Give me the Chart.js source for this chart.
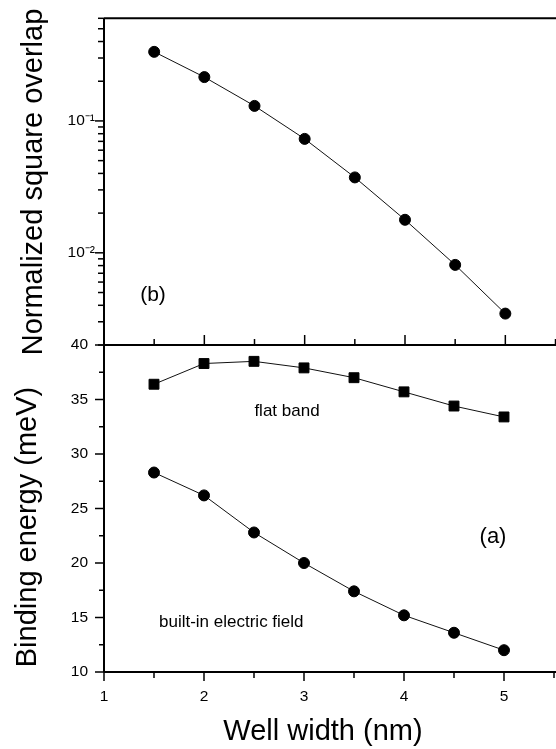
<!DOCTYPE html>
<html>
<head>
<meta charset="utf-8">
<script src="https://cdn.jsdelivr.net/npm/chart.js@4.4.1/dist/chart.umd.min.js"></script>
<style>
  html, body { margin: 0; padding: 0; background: #fff; overflow: hidden; }
  #wrap { position: relative; width: 556px; height: 749px; overflow: hidden; }
  #wrap canvas { position: absolute; left: 0; top: 0; }
</style>
</head>
<body>
<div id="wrap">
  <canvas id="chartTop" width="562" height="749"></canvas>
  <canvas id="chartBottom" width="562" height="749"></canvas>
</div>
<script>
// data
var wellWidth = [1.5, 2, 2.5, 3, 3.5, 4, 4.5, 5];
var overlap = [0.334, 0.215, 0.130, 0.0731, 0.0373, 0.0178, 0.0081, 0.00346];
var flatBand = [36.4, 38.3, 38.5, 37.9, 37.0, 35.7, 34.4, 33.4];
var builtIn = [28.3, 26.2, 22.8, 20.0, 17.4, 15.2, 13.6, 12.0];

var xTicks = [1, 2, 3, 4, 5];
var energyTicks = [10, 15, 20, 25, 30, 35, 40];
var overlapTicks = [0.01, 0.1];
var overlapLabels = ['10\u207B\u00B2', '10\u207B\u00B9'];

var FONT = '"Liberation Sans", Arial, Helvetica, sans-serif';

function pts(ys) {
  return wellWidth.map(function (x, i) { return { x: x, y: ys[i] }; });
}

function line(ctx, x1, y1, x2, y2, w) {
  ctx.lineWidth = w;
  ctx.beginPath();
  ctx.moveTo(x1, y1);
  ctx.lineTo(x2, y2);
  ctx.stroke();
}

function text(ctx, str, x, y, size, align, base) {
  ctx.font = size + 'px ' + FONT;
  ctx.textAlign = align || 'center';
  ctx.textBaseline = base || 'middle';
  ctx.fillText(str, x, y);
}

// frame + ticks for the top panel (log)
var topFrame = {
  id: 'topFrame',
  afterDraw: function (chart) {
    var ctx = chart.ctx, a = chart.chartArea;
    var xs = chart.scales.x, ys = chart.scales.y;
    ctx.save();
    ctx.strokeStyle = '#000';
    ctx.fillStyle = '#000';
    line(ctx, a.left, a.top, a.left, a.bottom, 2);
    line(ctx, a.left, a.top, chart.width, a.top, 2);
    // log ticks, pointing out
    for (var e = -3; e <= 0; e++) {
      for (var k = 1; k <= 9; k++) {
        var v = k * Math.pow(10, e);
        if (v < ys.min * 0.999 || v > ys.max * 1.001) continue;
        var py = ys.getPixelForValue(v);
        line(ctx, a.left - (k === 1 ? 9 : 6), py, a.left, py, 1.5);
      }
    }
    // x ticks on the bottom edge, pointing in
    for (var t = 1.5; t <= 5.5; t += 0.5) {
      var px = xs.getPixelForValue(t);
      line(ctx, px, a.bottom, px, a.bottom - (t % 1 === 0 ? 10 : 6), 1.5);
    }
    // titles and panel label
    ctx.save();
    ctx.translate(42, 182);
    ctx.rotate(-Math.PI / 2);
    text(ctx, 'Normalized square overlap', 0, 0, 29, 'center', 'alphabetic');
    ctx.restore();
    text(ctx, '(b)', 153, 295, 21);
    ctx.restore();
  }
};

// frame + ticks for the bottom panel (linear)
var bottomFrame = {
  id: 'bottomFrame',
  afterDraw: function (chart) {
    var ctx = chart.ctx, a = chart.chartArea;
    var xs = chart.scales.x, ys = chart.scales.y;
    ctx.save();
    ctx.strokeStyle = '#000';
    ctx.fillStyle = '#000';
    line(ctx, a.left, a.top, a.left, a.bottom, 2);
    line(ctx, a.left, a.top, chart.width, a.top, 2);
    line(ctx, a.left, a.bottom, chart.width, a.bottom, 2);
    for (var v = ys.min; v <= ys.max; v += 2.5) {
      var py = ys.getPixelForValue(v);
      line(ctx, a.left - (v % 5 === 0 ? 9 : 5), py, a.left, py, 1.5);
    }
    for (var t = 1; t <= 5.5; t += 0.5) {
      var px = xs.getPixelForValue(t);
      line(ctx, px, a.bottom, px, a.bottom + (t % 1 === 0 ? 9 : 6), 1.5);
    }
    ctx.save();
    ctx.translate(36, 527);
    ctx.rotate(-Math.PI / 2);
    text(ctx, 'Binding energy (meV)', 0, 0, 29, 'center', 'alphabetic');
    ctx.restore();
    text(ctx, 'Well width (nm)', 323, 740, 29, 'center', 'alphabetic');
    text(ctx, 'flat band', 287, 411, 17);
    text(ctx, '(a)', 493, 537, 22);
    text(ctx, 'built-in electric field', 159, 627, 17, 'left', 'alphabetic');
    ctx.restore();
  }
};

var tickFont = { family: FONT, size: 15.5 };

new Chart(document.getElementById('chartTop').getContext('2d'), {
  type: 'line',
  data: {
    datasets: [{
      data: pts(overlap),
      borderColor: '#111',
      borderWidth: 1,
      backgroundColor: '#000',
      pointBackgroundColor: '#000',
      pointBorderColor: '#000',
      pointStyle: 'circle',
      pointRadius: 5.5,
      pointBorderWidth: 1,
      fill: false
    }]
  },
  options: {
    responsive: false,
    animation: false,
    events: [],
    layout: { padding: { top: 17, right: 2, bottom: 404, left: 0 } },
    plugins: { legend: { display: false }, tooltip: { enabled: false } },
    scales: {
      x: { type: 'linear', min: 1, max: 5.5, display: false },
      y: {
        type: 'logarithmic',
        min: 0.002,
        max: 0.6,
        afterFit: function (s) { s.width = 104; },
        afterBuildTicks: function (s) {
          s.ticks = overlapTicks.map(function (v) { return { value: v }; });
        },
        grid: { display: false, drawTicks: false },
        border: { display: false },
        ticks: {
          autoSkip: false,
          padding: 9,
          color: '#000',
          font: tickFont,
          callback: function (v, i) { return overlapLabels[i]; }
        }
      }
    }
  },
  plugins: [topFrame]
});

new Chart(document.getElementById('chartBottom').getContext('2d'), {
  type: 'line',
  data: {
    datasets: [{
      data: pts(flatBand),
      borderColor: '#111',
      borderWidth: 1,
      pointBackgroundColor: '#000',
      pointBorderColor: '#000',
      pointStyle: 'rect',
      pointRadius: 7,
      pointBorderWidth: 1,
      fill: false
    }, {
      data: pts(builtIn),
      borderColor: '#111',
      borderWidth: 1,
      pointBackgroundColor: '#000',
      pointBorderColor: '#000',
      pointStyle: 'circle',
      pointRadius: 5.5,
      pointBorderWidth: 1,
      fill: false
    }]
  },
  options: {
    responsive: false,
    animation: false,
    events: [],
    layout: { padding: { top: 345, right: 2, bottom: 0, left: 0 } },
    plugins: { legend: { display: false }, tooltip: { enabled: false } },
    scales: {
      x: {
        type: 'linear',
        min: 1,
        max: 5.5,
        afterFit: function (s) { s.height = 77; },
        afterBuildTicks: function (s) {
          s.ticks = xTicks.map(function (v) { return { value: v }; });
        },
        grid: { display: false, drawTicks: false },
        border: { display: false },
        ticks: { autoSkip: false, maxRotation: 0, padding: 15, color: '#000', font: tickFont }
      },
      y: {
        type: 'linear',
        min: 10,
        max: 40,
        afterFit: function (s) { s.width = 104; },
        afterBuildTicks: function (s) {
          s.ticks = energyTicks.map(function (v) { return { value: v }; });
        },
        grid: { display: false, drawTicks: false },
        border: { display: false },
        ticks: { autoSkip: false, padding: 16, color: '#000', font: tickFont }
      }
    }
  },
  plugins: [bottomFrame]
});
</script>
</body>
</html>
